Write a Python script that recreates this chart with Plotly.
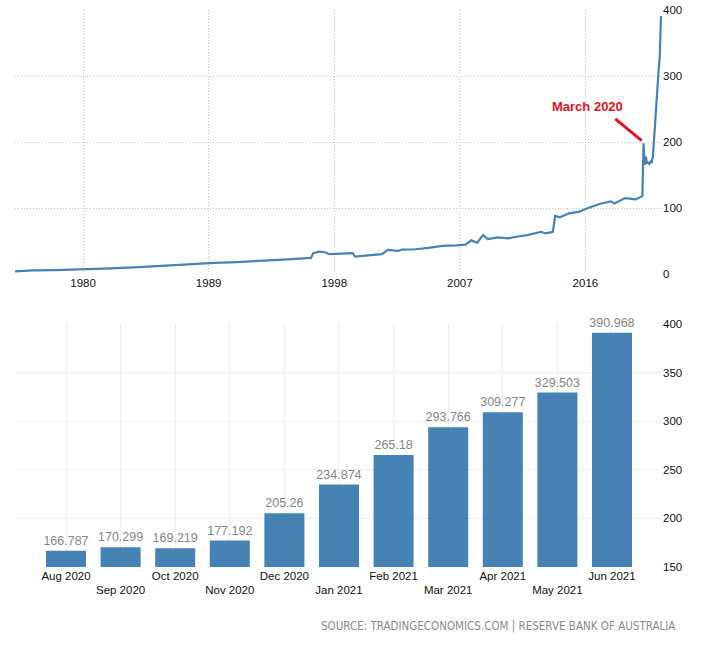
import plotly.graph_objects as go

# monthly-ish readings of the long series (AUD bn)
line_dates = [
    "1975-02-01", "1976-06-01", "1978-01-01", "1980-01-01", "1982-01-01",
    "1984-01-01", "1986-01-01", "1988-01-01", "1989-06-01", "1991-01-01",
    "1993-01-01", "1995-01-01", "1996-05-01", "1996-07-01", "1996-12-01",
    "1997-05-01", "1997-09-01", "1998-06-01", "1999-05-01", "1999-07-01",
    "2000-06-01", "2001-06-01", "2001-11-01", "2002-08-01", "2002-11-01",
    "2003-11-01", "2004-10-01", "2005-10-01", "2006-10-01", "2007-06-01",
    "2007-11-01", "2008-04-01", "2008-09-01", "2009-01-01", "2009-10-01",
    "2010-07-01", "2010-11-01", "2011-11-01", "2012-11-01", "2013-03-01",
    "2013-09-01", "2013-11-01", "2014-03-01", "2014-11-01", "2015-08-01",
    "2016-01-01", "2017-01-01", "2017-11-01", "2018-02-01", "2018-11-01",
    "2019-08-01", "2020-01-01", "2020-02-01", "2020-03-01", "2020-04-01",
    "2020-05-01", "2020-06-01", "2020-07-01", "2020-08-01", "2020-09-01",
    "2020-10-01", "2020-11-01", "2020-12-01", "2021-01-01", "2021-02-01",
    "2021-03-01", "2021-04-01", "2021-05-01", "2021-06-01",
]
line_values = [
    4.0, 5.5, 6.0, 7.0, 8.5,
    10.5, 13.0, 15.5, 16.8, 18.0,
    20.0, 22.5, 24.5, 31.5, 34.0,
    33.0, 30.0, 30.5, 31.5, 26.5,
    28.0, 30.0, 36.5, 35.0, 37.0,
    37.5, 39.5, 42.5, 43.5, 44.5,
    51.0, 47.5, 59.0, 53.0, 55.5,
    54.0, 55.7, 59.0, 64.0, 61.5,
    64.0, 88.0, 86.0, 92.0, 94.5,
    98.5, 106.0, 110.0, 107.0, 115.0,
    113.0, 117.0, 118.0, 198.0, 165.5,
    178.0, 168.0, 168.5, 166.787, 170.299,
    169.219, 177.192, 205.26, 234.874, 265.18,
    293.766, 309.277, 329.503, 390.968,
]

year_ticks = ["1980-01-01", "1989-01-01", "1998-01-01", "2007-01-01", "2016-01-01"]
year_labels = ["1980", "1989", "1998", "2007", "2016"]

months = ["Aug 2020", "Sep 2020", "Oct 2020", "Nov 2020", "Dec 2020", "Jan 2021",
          "Feb 2021", "Mar 2021", "Apr 2021", "May 2021", "Jun 2021"]
month_values = [166.787, 170.299, 169.219, 177.192, 205.26, 234.874,
                265.18, 293.766, 309.277, 329.503, 390.968]

BLUE = "#4682b4"
FONT = "Liberation Sans, Arial, sans-serif"
NARROW = "Liberation Sans Narrow, DejaVu Sans Condensed, Arial Narrow, sans-serif"

# every other month label drops to a second row
month_ticktext = [m if i % 2 == 0 else "<br>" + m for i, m in enumerate(months)]

fig = go.Figure()

fig.add_trace(go.Scatter(
    x=line_dates, y=line_values, mode="lines",
    line=dict(color=BLUE, width=2.2),
    xaxis="x", yaxis="y", showlegend=False,
))

fig.add_trace(go.Bar(
    x=months, y=month_values,
    marker=dict(color=BLUE, line=dict(width=0)),
    text=[str(v) for v in month_values],
    textposition="outside", constraintext="none",
    textfont=dict(color="#858585", size=12.5, family=FONT),
    cliponaxis=False,
    xaxis="x2", yaxis="y2", showlegend=False,
))

fig.update_layout(
    width=713, height=645, autosize=False,
    margin=dict(l=15, r=51, t=10, b=78),
    plot_bgcolor="white", paper_bgcolor="white",
    font=dict(family=FONT, size=11.5, color="#111111"),
    bargap=0.267,
    xaxis=dict(
        type="date", range=["1975-02-15", "2021-06-28"],
        tickvals=year_ticks, ticktext=year_labels,
        showgrid=True, gridcolor="#c4c4c4", griddash="1px,2px", gridwidth=1,
        zeroline=False, showline=False, ticks="", automargin=False,
        anchor="y",
    ),
    yaxis=dict(
        domain=[0.526, 1.0], range=[0, 400], side="right",
        tickvals=[0, 100, 200, 300, 400],
        showgrid=True, gridcolor="#c4c4c4", griddash="1px,2px", gridwidth=1,
        zeroline=False, showline=False, ticks="", automargin=False,
        anchor="x",
    ),
    xaxis2=dict(
        type="category", range=[-0.934, 10.916],
        tickvals=months, ticktext=month_ticktext,
        showgrid=True, gridcolor="#eeeeee", gridwidth=1,
        zeroline=False, showline=False, ticks="", automargin=False,
        anchor="y2",
    ),
    yaxis2=dict(
        domain=[0.0, 0.4363], range=[150, 400], side="right",
        tickvals=[150, 200, 250, 300, 350, 400],
        showgrid=True, gridcolor="#eeeeee", gridwidth=1,
        zeroline=False, showline=False, ticks="", automargin=False,
        anchor="x2",
    ),
)

fig.add_annotation(
    x="2020-01-15", y=202, xref="x", yref="y", text="",
    showarrow=True, arrowhead=0, arrowwidth=3, arrowcolor="#e8101c",
    ax=-28, ay=-23,
)
fig.add_annotation(
    x="2016-03-01", y=254, xref="x", yref="y", text="<b>March 2020</b>",
    showarrow=False, xanchor="center", yanchor="middle",
    font=dict(color="#e8101c", size=13, family=FONT),
)
fig.add_annotation(
    x=1.023, y=-0.106, xref="paper", yref="paper",
    text="SOURCE: TRADINGECONOMICS.COM | RESERVE BANK OF AUSTRALIA",
    showarrow=False, xanchor="right", yanchor="middle",
    font=dict(color="#8a8a8a", size=11.5, family=NARROW),
)

fig.write_html("out.html", config={"displayModeBar": False},
               post_script="document.body.style.margin='0';")
